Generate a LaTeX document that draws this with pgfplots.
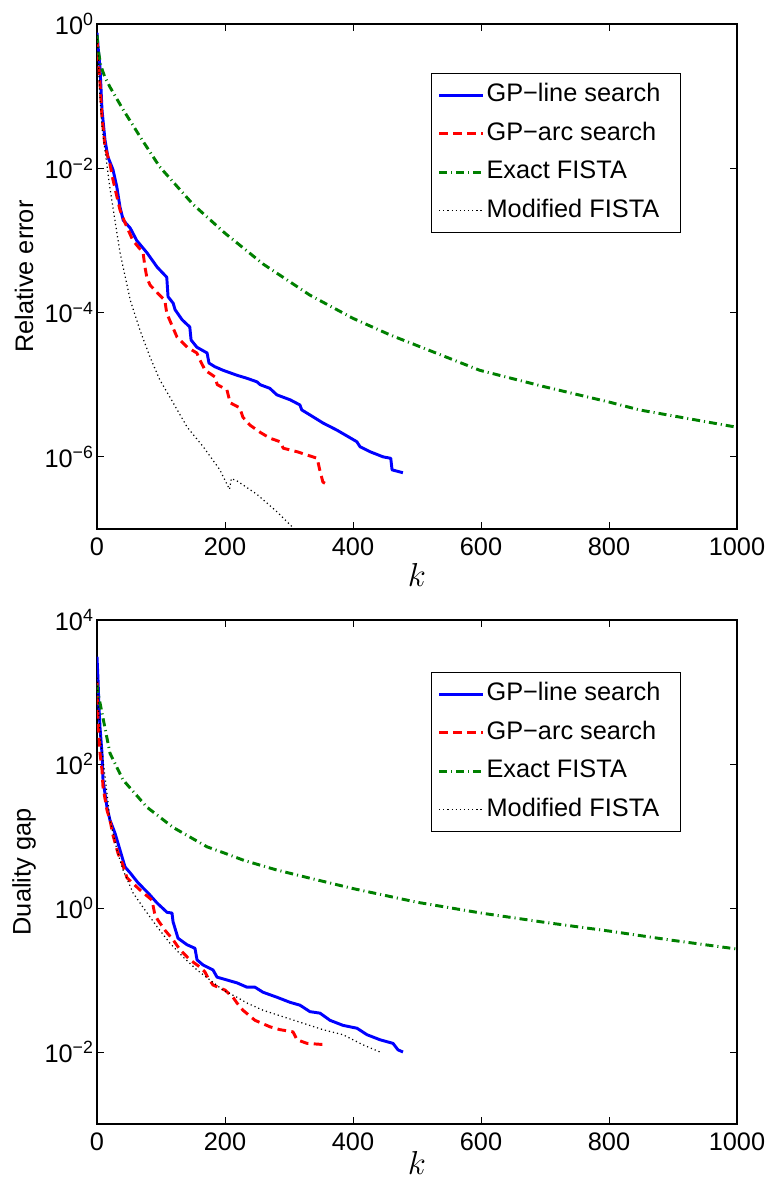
\documentclass[border=0pt]{standalone}
\usepackage{pgfplots}
\pgfplotsset{compat=1.18}
\usepackage{pgfplotstable}
\usepackage{fontspec}
\setmainfont{Liberation Sans}
\newcommand{\fs}{\fontsize{19}{22.8}\selectfont}
\definecolor{mgreen}{rgb}{0,0.5,0}

% values: k and log10 of the plotted quantity
\pgfplotstableread{
k v
0 -0.12
2 -0.35
4.7 -0.60
7.8 -1.19
12.5 -1.61
17 -1.84
25 -2.02
31 -2.26
36 -2.54
41 -2.72
52 -2.83
62 -3.00
78 -3.17
94 -3.37
109 -3.51
111 -3.78
119 -3.87
122 -3.96
133 -4.10
145 -4.20
147 -4.38
156 -4.48
172 -4.56
175 -4.70
184 -4.75
197 -4.80
219 -4.87
234 -4.91
250 -4.96
255 -5.00
270 -5.05
281 -5.14
302 -5.21
317 -5.28
320 -5.35
333 -5.42
353 -5.53
375 -5.63
406 -5.79
411 -5.86
427 -5.93
447 -6.00
459 -6.02
461 -6.18
478 -6.22
}\topblue
\pgfplotstableread{
k v
0 -0.20
2 -0.50
4.7 -0.82
7.8 -1.29
12.5 -1.70
20 -1.93
25 -2.16
36 -2.58
44 -2.76
56 -3.00
72 -3.17
75 -3.37
78 -3.52
83 -3.62
98 -3.76
106 -3.83
109 -4.01
125 -4.34
141 -4.48
156 -4.56
161 -4.66
169 -4.80
184 -4.89
188 -5.00
203 -5.07
208 -5.25
223 -5.32
228 -5.45
239 -5.56
255 -5.66
270 -5.74
286 -5.79
291 -5.88
313 -5.93
344 -6.02
348 -6.18
353 -6.35
361 -6.39
}\topred
\pgfplotstableread{
k v
0 -0.15
1 -0.25
3 -0.42
6 -0.58
12 -0.73
20 -0.87
41 -1.19
70 -1.60
98 -1.98
150 -2.50
200 -2.90
260 -3.33
333 -3.76
400 -4.08
458 -4.31
598 -4.80
700 -5.03
800 -5.24
848 -5.35
1000 -5.59
}\topgreen
\pgfplotstableread{
k v
0 -0.15
1.6 -0.36
4.7 -1.05
8 -1.45
12.5 -1.75
20 -2.26
28 -2.72
36 -3.17
44 -3.50
52 -3.83
67 -4.24
83 -4.62
98 -4.93
119 -5.25
141 -5.59
166 -5.86
192 -6.18
207 -6.45
210 -6.30
220 -6.34
250 -6.52
281 -6.76
305 -6.97
315 -7.10
}\topblack

\pgfplotstableread{
k v
0 3.49
1.6 3.17
3.1 2.79
4.7 2.51
7.8 2.15
9.4 1.78
15.6 1.40
20.3 1.22
28.1 1.04
32.8 0.90
39.1 0.71
43.8 0.57
51.6 0.49
64.1 0.35
79.7 0.21
93.8 0.07
109.4 -0.06
117.2 -0.07
118.8 -0.19
126.6 -0.42
140.6 -0.51
153.1 -0.56
156.3 -0.72
165.6 -0.79
181.3 -0.86
187.5 -0.96
203.1 -1.00
218.8 -1.04
234.4 -1.10
246.9 -1.10
259.4 -1.17
281.3 -1.24
301.6 -1.31
317.2 -1.35
332.8 -1.44
348.4 -1.46
364.1 -1.56
384.4 -1.63
406.3 -1.67
421.9 -1.76
442.2 -1.83
462.5 -1.88
470.3 -1.97
478.1 -2.00
}\botblue
\pgfplotstableread{
k v
0 3.14
1.6 2.61
4.7 2.15
7.8 1.92
9.4 1.68
15.6 1.36
20.3 1.22
25 1.01
32.8 0.76
39.1 0.63
46.9 0.42
67.2 0.25
85.9 0.11
90.6 -0.10
95.3 -0.17
106.3 -0.31
118.8 -0.44
129.7 -0.58
145.3 -0.72
160.9 -0.82
168.8 -0.89
173.4 -0.97
181.3 -1.07
200 -1.14
212.5 -1.24
218.8 -1.32
228.1 -1.42
246.9 -1.56
270.3 -1.65
286 -1.69
306.3 -1.72
312.5 -1.83
328.1 -1.88
359.4 -1.90
}\botred
\pgfplotstableread{
k v
0 3.10
1.6 2.99
7.8 2.71
20.3 2.15
40.6 1.78
78.1 1.40
118.8 1.12
171.9 0.85
200 0.76
230 0.66
280 0.53
330 0.42
400 0.27
500 0.08
600 -0.07
700 -0.20
800 -0.32
900 -0.45
1000 -0.57
}\botgreen
\pgfplotstableread{
k v
0 3.20
1.6 2.93
4.7 2.43
9.4 2.06
15.6 1.60
20.3 1.22
31.3 0.80
40.6 0.53
56.3 0.21
71.9 0.01
93.8 -0.26
114.1 -0.49
134.4 -0.68
156.3 -0.86
176.6 -1.00
196.9 -1.14
218.8 -1.24
234.4 -1.32
259.4 -1.42
290.6 -1.51
321.9 -1.60
353.1 -1.69
384.4 -1.76
415.6 -1.90
442.2 -2.00
}\botblack

\tikzset{
  lblue/.style={blue, line width=2.2pt, line join=round},
  lred/.style={red, line width=2.2pt, dash pattern=on 6.5pt off 4pt, line join=round},
  lgreen/.style={mgreen, line width=2.2pt, dash pattern=on 6pt off 3pt on 0.8pt off 3pt},
  lblack/.style={black, line width=0.9pt, dash pattern=on 0.9pt off 2.2pt},
}
\newcommand{\ent}[1]{#1\rule{10.5pt}{0pt}}

\begin{document}
\begin{tikzpicture}
\begin{axis}[at={(72.75pt,495.75pt)}, anchor=south west,
  scale only axis, width=480pt, height=378.75pt,
  xmin=0, xmax=1000, ymode=log, ymin=1e-7, ymax=1,
  xtick={0,200,400,600,800,1000}, xticklabels={0,200,400,600,800,1000},
  ytick={1e-6,1e-4,1e-2,1},
  yticklabels={10\textsuperscript{−6},10\textsuperscript{−4},10\textsuperscript{−2},10\textsuperscript{0}},
  yminorticks=false, tick align=inside, major tick length=5pt,
  tick style={line width=0.6pt, black},
  axis line style={line width=0.9pt},
  tick label style={font=\fs},
  label style={font=\fs},
  xticklabel style={yshift=-3pt},
  yticklabel style={xshift=1pt},
  xlabel={\fontsize{27}{30}\selectfont$k$}, ylabel={Relative error},
  xlabel style={at={(axis description cs:0.5,-0.091)}, anchor=center},
  ylabel style={at={(axis description cs:-0.114,0.5)}, anchor=center},
  legend style={font=\fs, draw=black, line width=0.75pt, fill=white,
    at={(axis description cs:0.9125,0.903)}, anchor=north east,
    inner xsep=4.5pt, inner ysep=7.95pt, row sep=11.9pt,
    nodes={inner sep=0pt, text height=13.4pt, text depth=3.5pt}},
  legend cell align=left,
  legend image code/.code={\draw[#1] (0pt,0pt) -- (33pt,0pt); \path (34.5pt,0pt);}]
\addplot[lblue] table[x=k, y expr=10^(\thisrow{v})] {\topblue};
\addplot[lred] table[x=k, y expr=10^(\thisrow{v})] {\topred};
\addplot[lgreen] table[x=k, y expr=10^(\thisrow{v})] {\topgreen};
\addplot[lblack] table[x=k, y expr=10^(\thisrow{v})] {\topblack};
\legend{\ent{GP−line search}, \ent{GP−arc search}, \ent{Exact FISTA}, \ent{Modified FISTA}}
\end{axis}
\begin{axis}[at={(72.75pt,49.5pt)}, anchor=south west,
  scale only axis, width=480pt, height=378pt,
  xmin=0, xmax=1000, ymode=log, ymin=1e-3, ymax=1e4,
  xtick={0,200,400,600,800,1000}, xticklabels={0,200,400,600,800,1000},
  ytick={1e-2,1,1e2,1e4},
  yticklabels={10\textsuperscript{−2},10\textsuperscript{0},10\textsuperscript{2},10\textsuperscript{4}},
  yminorticks=false, tick align=inside, major tick length=5pt,
  tick style={line width=0.6pt, black},
  axis line style={line width=0.9pt},
  tick label style={font=\fs},
  label style={font=\fs},
  xticklabel style={yshift=-3pt},
  yticklabel style={xshift=1pt},
  xlabel={\fontsize{27}{30}\selectfont$k$}, ylabel={Duality gap},
  xlabel style={at={(axis description cs:0.5,-0.078)}, anchor=center},
  ylabel style={at={(axis description cs:-0.114,0.5)}, anchor=center},
  legend style={font=\fs, draw=black, line width=0.75pt, fill=white,
    at={(axis description cs:0.9125,0.897)}, anchor=north east,
    inner xsep=4.5pt, inner ysep=7.95pt, row sep=11.9pt,
    nodes={inner sep=0pt, text height=13.4pt, text depth=3.5pt}},
  legend cell align=left,
  legend image code/.code={\draw[#1] (0pt,0pt) -- (33pt,0pt); \path (34.5pt,0pt);}]
\addplot[lblue] table[x=k, y expr=10^(\thisrow{v})] {\botblue};
\addplot[lred] table[x=k, y expr=10^(\thisrow{v})] {\botred};
\addplot[lgreen] table[x=k, y expr=10^(\thisrow{v})] {\botgreen};
\addplot[lblack] table[x=k, y expr=10^(\thisrow{v})] {\botblack};
\legend{\ent{GP−line search}, \ent{GP−arc search}, \ent{Exact FISTA}, \ent{Modified FISTA}}
\end{axis}
\pgfresetboundingbox
\useasboundingbox (0,0) rectangle (576pt,892.5pt);
\end{tikzpicture}
\end{document}
